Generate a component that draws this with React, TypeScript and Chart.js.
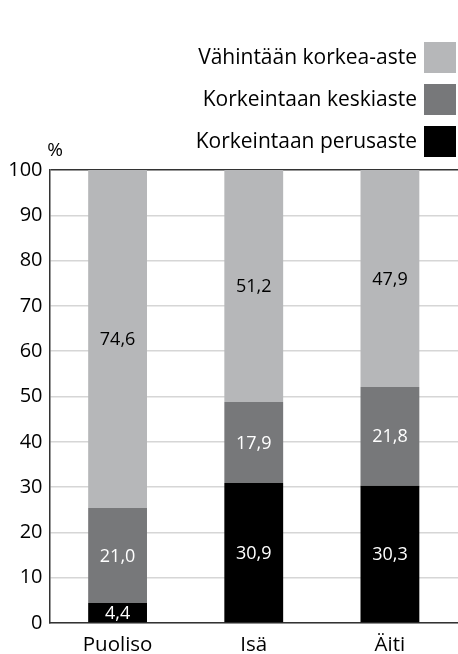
import React, { useEffect, useRef } from "react";
import { Chart, registerables } from "chart.js";

Chart.register(...registerables);

const categories = ["Puoliso", "Isä", "Äiti"];
const seriesNames = ["Korkeintaan perusaste", "Korkeintaan keskiaste", "Vähintään korkea-aste"];
const perusaste = [4.4, 30.9, 30.3];
const keskiaste = [21.0, 17.9, 21.8];
const korkea = [74.6, 51.2, 47.9];
const seriesColors = ["#000000", "#77787a", "#b6b7b9"];
const labelColors = ["#ffffff", "#ffffff", "#000000"];
const yTicks = [0, 10, 20, 30, 40, 50, 60, 70, 80, 90, 100];

const FONT = "'Open Sans', 'Noto Sans', sans-serif";

const overlayPlugin = {
  id: "overlay",
  afterDatasetsDraw(chart: any) {
    const ctx = chart.ctx;
    ctx.save();
    // value labels
    ctx.font = `18px ${FONT}`;
    ctx.textAlign = "center";
    ctx.textBaseline = "middle";
    chart.data.datasets.forEach((ds: any, di: number) => {
      const meta = chart.getDatasetMeta(di);
      meta.data.forEach((el: any, i: number) => {
        const v = ds.data[i];
        const y = (el.y + el.base) / 2;
        ctx.fillStyle = labelColors[di];
        ctx.fillText(v.toFixed(1).replace(".", ","), el.x, y + 1);
      });
    });
    // legend (top item = last dataset)
    ctx.font = `21px ${FONT}`;
    ctx.textAlign = "right";
    const n = chart.data.datasets.length;
    const rowCenters = [57.5, 99.5, 141.5];
    for (let r = 0; r < n; r++) {
      const di = n - 1 - r;
      const ds = chart.data.datasets[di];
      const cy = rowCenters[r];
      ctx.fillStyle = ds.backgroundColor;
      ctx.fillRect(424, cy - 15.5, 32, 31);
      ctx.fillStyle = "#000";
      ctx.fillText(ds.label, 417, cy + 1);
    }
    // % label
    ctx.textAlign = "center";
    ctx.font = `19px ${FONT}`;
    ctx.fillText("%", 55, 151);
    ctx.restore();
  },
};

export default function App() {
  const ref = useRef<HTMLCanvasElement | null>(null);
  useEffect(() => {
    document.body.style.margin = "0";
    if (!ref.current) return;
    const datasetsData = [perusaste, keskiaste, korkea];
    const chart = new Chart(ref.current, {
      type: "bar",
      data: {
        labels: categories,
        datasets: datasetsData.map((d, i) => ({
          label: seriesNames[i],
          data: d,
          backgroundColor: seriesColors[i],
          borderWidth: 0,
          barPercentage: 0.432,
          categoryPercentage: 1,
        })),
      },
      options: {
        animation: false,
        responsive: false,
        maintainAspectRatio: false,
        layout: { padding: { top: 170, right: 0, left: 0, bottom: 0 } },
        plugins: {
          legend: { display: false },
          tooltip: { enabled: false },
        },
        scales: {
          x: {
            stacked: true,
            grid: { display: false },
            border: { display: true, color: "#333333", width: 1.5 },
            ticks: { color: "#000", font: { family: FONT, size: 20.5 }, padding: 2 },
            afterFit: (s: any) => { s.height = 31; },
          },
          y: {
            stacked: true,
            min: 0,
            max: 100,
            afterBuildTicks: (s: any) => { s.ticks = yTicks.map((v) => ({ value: v })); },
            grid: {
              color: (c: any) => (c.tick && c.tick.value === 100 ? "#333333" : "#d6d6d6"),
              lineWidth: 1.5,
              drawTicks: false,
            },
            border: { display: true, color: "#333333", width: 1.5 },
            ticks: { color: "#000", font: { family: FONT, size: 20 }, padding: 7 },
            afterFit: (s: any) => { s.width = 49.5; },
          },
        },
      },
      plugins: [overlayPlugin],
    });
    return () => chart.destroy();
  }, []);
  return (
    <div style={{ width: 458, height: 654 }}>
      <canvas ref={ref} width={458} height={654} style={{ display: "block" }} />
    </div>
  );
}
